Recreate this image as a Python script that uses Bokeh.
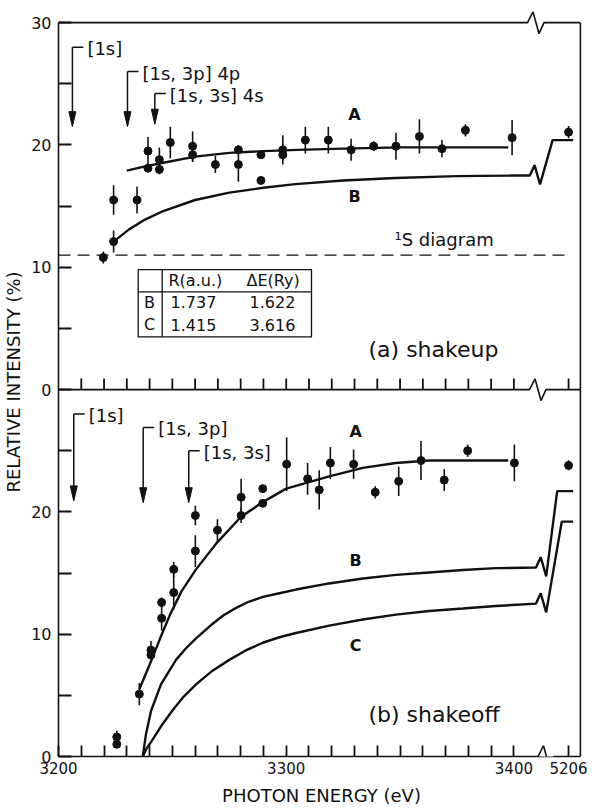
import numpy as np
from bokeh.plotting import figure
from bokeh.models import FixedTicker, Range1d, Arrow, ColumnDataSource
from bokeh.core.properties import value
from bokeh.embed import file_html
from bokeh.resources import INLINE

FONT = "DejaVu Sans"
INK = "#111111"

# ---------------- (a) shake-up ----------------
SU_E = [3219.7, 3224.2, 3224.2, 3234.5, 3239.3, 3239.3, 3244.3, 3244.3, 3249.1,
        3258.9, 3258.9, 3268.9, 3279.0, 3279.0, 3288.9, 3288.9, 3298.5, 3298.5,
        3308.4, 3318.5, 3328.5, 3338.4, 3348.2, 3358.5, 3368.4, 3378.7, 3399.2, 5206]
SU_I = [10.8, 12.1, 15.5, 15.5, 19.5, 18.1, 18.8, 18.0, 20.2,
        19.9, 19.2, 18.4, 19.6, 18.4, 19.2, 17.1, 19.6, 19.2,
        20.4, 20.4, 19.6, 19.9, 19.9, 20.7, 19.7, 21.2, 20.6, 21.05]
SU_ERR = [0.5, 0.9, 1.2, 1.1, 1.15, 0.3, 1.0, 0.4, 1.3,
          1.2, 0.6, 0.7, 0.4, 1.4, 0.3, 0.3, 1.2, 0.4,
          1.1, 1.1, 0.9, 0.4, 1.1, 1.4, 0.7, 0.5, 1.45, 0.5]

SU_A_E = [3230, 3238, 3246, 3260, 3275, 3290, 3305, 3325, 3350, 3375, 3397.5]
SU_A_I = [17.9, 18.25, 18.55, 19.05, 19.35, 19.5, 19.6, 19.7, 19.8, 19.8, 19.8]
SU_B_E = [3224.2, 3231, 3238, 3246, 3260, 3275, 3290, 3304, 3325, 3348, 3375, 3400, 3407]
SU_B_I = [12.1, 13.1, 13.9, 14.6, 15.5, 16.1, 16.5, 16.8, 17.1, 17.3, 17.45, 17.5, 17.5]
SU_B_LIMIT = 20.4
SU_DIAGRAM = 11.0

SU_ARROW_E = [3206.1, 3230.3, 3242.3]
SU_ARROW_TOP = [28.0, 26.0, 24.2]
SU_ARROW_TIP = [21.5, 21.5, 21.7]
SU_ARROW_TEXT = ["[1s]", "[1s, 3p] 4p", "[1s, 3s] 4s"]

TABLE_HEAD = ["R(a.u.)", "\u0394E(Ry)"]
TABLE_ROWS = ["B", "C"]
TABLE_R = ["1.737", "1.415"]
TABLE_DE = ["1.622", "3.616"]

# ---------------- (b) shake-off ----------------
SO_E = [3225.6, 3225.6, 3235.5, 3240.6, 3240.6, 3245.3, 3245.3, 3250.6, 3250.6,
        3260.1, 3260.1, 3269.8, 3280.2, 3280.2, 3289.7, 3289.7, 3300.2,
        3309.4, 3314.5, 3319.4, 3329.6, 3339.1, 3349.4, 3359.2, 3369.4, 3379.7, 3400.2, 5206]
SO_I = [1.6, 1.0, 5.1, 8.7, 8.3, 11.3, 12.6, 13.4, 15.3,
        16.8, 19.7, 18.5, 21.2, 19.7, 21.9, 20.7, 23.9,
        22.7, 21.8, 24.0, 23.9, 21.6, 22.5, 24.2, 22.6, 25.0, 24.0, 23.8]
SO_ERR = [0.5, 0.3, 0.9, 0.75, 0.3, 1.0, 0.4, 1.4, 0.6,
          1.3, 0.8, 0.9, 1.5, 0.6, 0.3, 0.3, 2.2,
          1.3, 1.6, 1.3, 1.2, 0.5, 1.2, 1.6, 0.9, 0.5, 1.5, 0.4]

SO_A_E = [3235.5, 3240, 3244.5, 3249, 3254, 3260.4, 3269.2, 3280.2, 3289.7, 3300,
          3318.9, 3333.6, 3348.2, 3362.8, 3377.5, 3397.5]
SO_A_I = [5.5, 7.5, 9.6, 11.6, 13.5, 15.3, 17.4, 19.6, 20.8, 21.9,
          22.9, 23.6, 24.0, 24.2, 24.2, 24.2]
SO_B_E = [3237.0, 3238.4, 3240.6, 3245.0, 3251.6, 3256.0, 3260.4, 3267.0, 3272.5,
          3278.0, 3283.5, 3289.8, 3297.0, 3304.3, 3318.8, 3333.7, 3348.2, 3362.7,
          3377.6, 3392.1, 3409.7]
SO_B_I = [0.0, 1.8, 3.7, 5.9, 7.9, 8.85, 9.65, 10.75, 11.55,
          12.15, 12.65, 13.05, 13.35, 13.65, 14.15, 14.55, 14.85, 15.05,
          15.25, 15.4, 15.45]
SO_B_LIMIT = 21.7
SO_C_E = [3237.0, 3238.5, 3241.4, 3245.5, 3250.2, 3255.0, 3260.4, 3267.5, 3275.0,
          3282.0, 3289.7, 3297.0, 3304.3, 3318.9, 3333.6, 3348.2, 3362.8, 3377.5,
          3392.1, 3409.7]
SO_C_I = [0.0, 0.6, 1.4, 2.6, 3.8, 4.9, 5.9, 7.0, 7.9,
          8.65, 9.3, 9.75, 10.1, 10.7, 11.2, 11.6, 11.9, 12.1,
          12.3, 12.5]
SO_C_LIMIT = 19.2

SO_ARROW_E = [3206.7, 3237.2, 3257.2]
SO_ARROW_TOP = [28.0, 26.9, 25.0]
SO_ARROW_TIP = [20.9, 20.75, 20.75]
SO_ARROW_TEXT = ["[1s]", "[1s, 3p]", "[1s, 3s]"]

X_LABELED = [3200, 3300, 3400]
X_HIGH = 5206
Y_LABELS = [0, 10, 20, 30]

# ---------------- layout constants ----------------
FRAME_W, FRAME_H = 526, 749
X0, X1 = 3200.0, 3431.0
Y1 = 61.24
OFFSET = 30                 # panel (a) is stacked above panel (b)
HIGH_POS = 3424             # where 5206 eV sits on the broken axis
SHIFT = X_HIGH - HIGH_POS
RIGHT_E = 3429.2
PXE = FRAME_W / (X1 - X0)   # px per eV
PXI = FRAME_H / Y1          # px per %
TICK_W = 1.8


def cx(e):
    e = np.asarray(e, dtype=float)
    return np.where(e > 5000, e - SHIFT, e)


def px_e(px):
    return px / PXE


def px_i(px):
    return px / PXI


p = figure(frame_width=FRAME_W, frame_height=FRAME_H,
           x_range=Range1d(X0, X1), y_range=Range1d(0, Y1),
           output_backend="svg", toolbar_location=None, title=None,
           min_border_left=57, min_border_right=4, min_border_top=7, min_border_bottom=0,
           background_fill_color="white", border_fill_color="white",
           outline_line_color=None)
p.grid.visible = False

# ---- axes
xa = p.xaxis[0]
xa.ticker = FixedTicker(ticks=X_LABELED + [HIGH_POS],
                        minor_ticks=[t for t in range(3210, 3400, 10) if t % 100])
xa.major_label_overrides = {HIGH_POS: str(X_HIGH)}
xa.bounds = (X0, RIGHT_E)
ya = p.yaxis[0]
ya.ticker = FixedTicker(ticks=Y_LABELS + [v + OFFSET for v in Y_LABELS[1:]],
                        minor_ticks=[5, 15, 25, 35, 45, 55])
ya.major_label_overrides = {v + OFFSET: str(v) for v in Y_LABELS}
ya.bounds = (0, 60)
for ax, tick in ((xa, 11), (ya, 13)):
    ax.axis_line_color = INK
    ax.axis_line_width = 1.6
    ax.major_tick_in = tick
    ax.major_tick_out = 0
    ax.minor_tick_in = tick
    ax.minor_tick_out = 0
    ax.major_tick_line_color = INK
    ax.minor_tick_line_color = INK
    ax.major_tick_line_width = TICK_W
    ax.minor_tick_line_width = TICK_W
    ax.major_label_text_font = FONT
    ax.major_label_text_color = INK
    ax.axis_label_text_font = FONT
    ax.axis_label_text_font_style = "normal"
    ax.axis_label_text_color = INK
xa.major_label_text_font_size = "15px"
xa.major_label_standoff = 5
xa.axis_label_standoff = 8
xa.axis_label_text_font_size = "18px"
xa.axis_label = "PHOTON ENERGY (eV)"
ya.major_label_text_font_size = "16px"
ya.major_label_standoff = 7
ya.axis_label_standoff = 4
ya.axis_label_text_font_size = "18px"
ya.axis_label = "RELATIVE INTENSITY (%)"

# ---- frame pieces drawn with the break symbol
ZX = [0, 5.5, 11.5, 16.5]
ZY = [0, 10.8, -11.0, 0]


def zig(start_px, level):
    x0 = X0 + px_e(start_px)
    return [x0 + px_e(d) for d in ZX], [level + px_i(d) for d in ZY]


zx, zy = zig(469, 60)
p.line([X0] + zx + [RIGHT_E], [60] + zy + [60], line_color=INK, line_width=1.6)
zx, zy = zig(471, OFFSET)
p.line([X0] + zx + [RIGHT_E], [OFFSET] + zy + [OFFSET], line_color=INK, line_width=1.6)
p.line([RIGHT_E, RIGHT_E], [0, 60], line_color=INK, line_width=1.6)
mid_ticks = [float(t) for t in range(3210, 3401, 10)] + [float(HIGH_POS)]
n_mid = len(mid_ticks)
p.segment(x0=mid_ticks, y0=[float(OFFSET)] * n_mid, x1=mid_ticks,
          y1=[OFFSET + px_i(11)] * n_mid, line_color=INK, line_width=TICK_W)
zx, zy = zig(479.5, 0)
# hide the straight axis line under the break symbol, then draw the symbol
p.add_layout(Arrow(end=None, x_start=zx[0] + px_e(1), y_start=0,
                   x_end=zx[-1] - px_e(1), y_end=0,
                   line_color="white", line_width=4))
p.add_layout(Arrow(end=None, source=ColumnDataSource(dict(
    x0=zx[:-1], y0=zy[:-1], x1=zx[1:], y1=zy[1:])),
    x_start="x0", y_start="y0", x_end="x1", y_end="y1",
    line_color=INK, line_width=1.6))


# ---- helpers
def broken_curve(es, vals, limit, tail_start, off):
    xe, ye = es[-1], vals[-1]
    xs = list(es) + [xe + px_e(4.7), xe + px_e(10.2)] + list(cx([tail_start, 5208]))
    ys = list(vals) + [ye + px_i(10.4), ye - px_i(8.8), limit, limit]
    p.line(xs, np.array(ys) + off, line_color=INK, line_width=2.4)


def data_points(es, vals, errs, off):
    x = cx(es)
    y = np.array(vals) + off
    e = np.array(errs)
    p.segment(x0=x, y0=y - e, x1=x, y1=y + e, line_color=INK, line_width=1.6)
    p.scatter(x, y, size=8, fill_color=INK, line_color=INK)


def arrows(es, tops, tips, texts, off):
    es = np.array(es)
    tops = np.array(tops) + off
    tips = np.array(tips) + off
    hl, hw = px_i(15), px_e(3.5)
    p.segment(x0=es, y0=tops, x1=es, y1=tips + hl * 0.5, line_color=INK, line_width=1.5)
    p.segment(x0=es, y0=tops, x1=es + px_e(11), y1=tops, line_color=INK, line_width=1.5)
    p.patches([[x - hw, x, x + hw] for x in es],
              [[t + hl, t, t + hl] for t in tips], fill_color=INK, line_color=INK)
    p.text(es + px_e(15), tops + px_i(-1.5), text=texts, text_font=value(FONT),
           text_font_size="18px", text_align="left", text_baseline="middle",
           text_color=INK)


def label(x, y, txt, size="16px", align="center", style="normal"):
    p.text([x], [y], text=[txt], text_font=value(FONT), text_font_size=size,
           text_align=align, text_baseline="middle", text_color=INK,
           text_font_style=style)


# ---------------- panel (a) ----------------
p.line([X0, X0 + px_e(508)], [SU_DIAGRAM + OFFSET] * 2, line_color=INK,
       line_width=1.3, line_dash="12 7")
label(X0 + px_e(336), OFFSET + 12.3, "\u00b9S diagram", size="18px", align="left")
p.line(SU_A_E, np.array(SU_A_I) + OFFSET, line_color=INK, line_width=2.4)
broken_curve(SU_B_E, SU_B_I, SU_B_LIMIT, 5199, OFFSET)
data_points(SU_E, SU_I, SU_ERR, OFFSET)
arrows(SU_ARROW_E, SU_ARROW_TOP, SU_ARROW_TIP, SU_ARROW_TEXT, OFFSET)
label(3330, OFFSET + 22.5, "A", size="16px", style="bold")
label(3330, OFFSET + 15.8, "B", size="16px", style="bold")
label(X0 + px_e(310), OFFSET + 3.27, "(a)   shakeup", size="22px", align="left")

# table of fit parameters
t_left, t_right = X0 + px_e(79.7), X0 + px_e(253)
t_top, t_bot = OFFSET + 9.81, OFFSET + 4.31
t_head, t_div = OFFSET + 7.99, X0 + px_e(103.7)
p.quad(left=[t_left], right=[t_right], bottom=[t_bot], top=[t_top],
       fill_color=None, line_color=INK, line_width=1.3)
p.segment(x0=[t_left, t_div], y0=[t_head, t_bot], x1=[t_right, t_div], y1=[t_head, t_top],
          line_color=INK, line_width=1.3)
head_y = OFFSET + 8.91
row_y = [OFFSET + 7.14, OFFSET + 5.31]
p.text([X0 + px_e(110), X0 + px_e(188)], [head_y] * 2, text=TABLE_HEAD,
       text_font=value(FONT), text_font_size="16px", text_align="left",
       text_baseline="middle", text_color=INK)
p.text([X0 + px_e(91)] * 2, row_y, text=TABLE_ROWS, text_font=value(FONT),
       text_font_size="16px", text_align="center", text_baseline="middle", text_color=INK)
p.text([X0 + px_e(112)] * 2, row_y, text=TABLE_R, text_font=value(FONT),
       text_font_size="16px", text_align="left", text_baseline="middle", text_color=INK)
p.text([X0 + px_e(191)] * 2, row_y, text=TABLE_DE, text_font=value(FONT),
       text_font_size="16px", text_align="left", text_baseline="middle", text_color=INK)

# ---------------- panel (b) ----------------
p.line(SO_A_E, SO_A_I, line_color=INK, line_width=2.4)
broken_curve(SO_B_E, SO_B_I, SO_B_LIMIT, 5201, 0)
broken_curve(SO_C_E, SO_C_I, SO_C_LIMIT, 5203, 0)
data_points(SO_E, SO_I, SO_ERR, 0)
arrows(SO_ARROW_E, SO_ARROW_TOP, SO_ARROW_TIP, SO_ARROW_TEXT, 0)
label(3330.5, 26.6, "A", size="16px", style="bold")
label(3330.5, 16.0, "B", size="16px", style="bold")
label(3330.5, 9.05, "C", size="16px", style="bold")
label(X0 + px_e(310), 3.43, "(b)   shakeoff", size="22px", align="left")

open("out.html", "w").write(file_html(p, INLINE))
